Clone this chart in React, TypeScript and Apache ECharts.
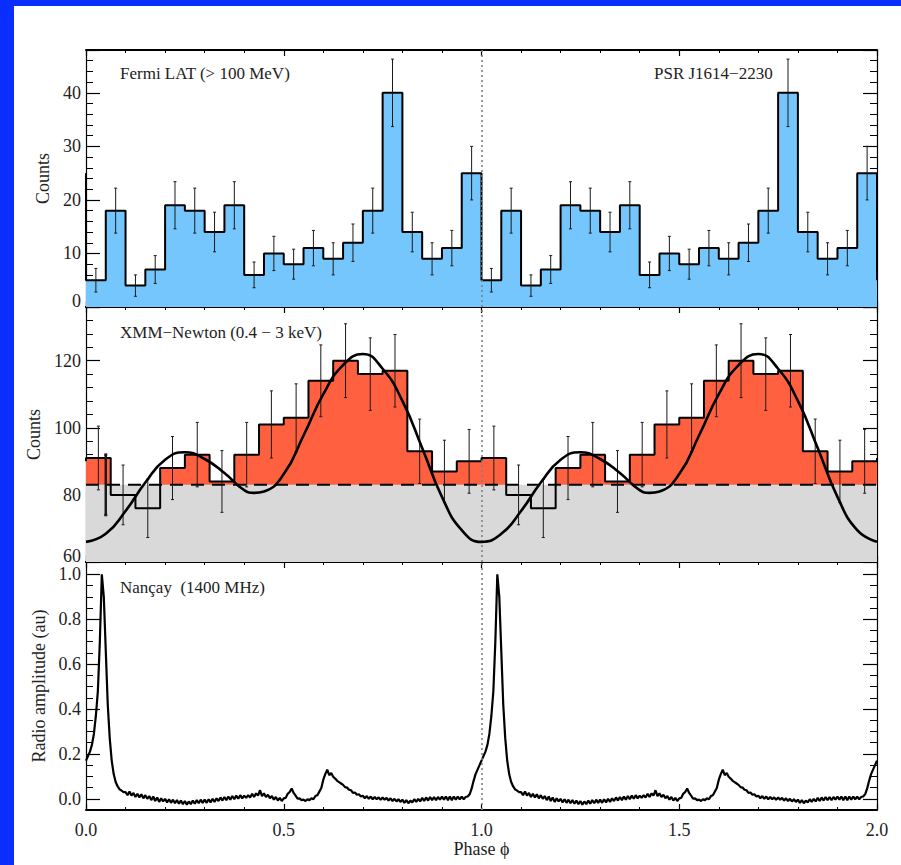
import React, { useEffect, useRef } from "react";
import * as echarts from "echarts";

// ---------------- data ----------------
const phaseTicks = [0, 0.5, 1.0, 1.5, 2.0];
const cycles = [0, 1];

// Fermi LAT (> 100 MeV), 20 bins per rotation
const fermiBinWidth = 0.05;
const fermiCounts = [5, 18, 4, 7, 19, 18, 14, 19, 6, 10, 8, 11, 9, 12, 18, 40, 14, 9, 11, 25];
const fermiErrors = [2.2, 4.2, 2.0, 2.6, 4.4, 4.2, 3.7, 4.4, 2.4, 3.2, 2.8, 3.3, 3.0, 3.5, 4.2, 6.3, 3.7, 3.0, 3.3, 5.0];

// XMM-Newton (0.4 - 3 keV), 16 bins per rotation
const xmmBinWidth = 0.0625;
const xmmCounts = [91, 80, 76, 88, 92, 84, 92, 101, 103, 114, 120, 116, 117, 93, 87, 90];
const xmmErrors = [9.5, 8.9, 8.7, 9.4, 9.6, 9.2, 9.6, 10.0, 10.1, 10.7, 11.0, 10.8, 10.8, 9.6, 9.3, 9.5];
const xmmBackground = 83;
const xmmExtraBar = [[0.05, 74, 92]];

// model curve
const xmmModelPhase = [0, 0.05, 0.1, 0.15, 0.2, 0.25, 0.3, 0.35, 0.4, 0.425, 0.45, 0.5, 0.55, 0.6, 0.65, 0.7, 0.75, 0.8, 0.85, 0.9, 0.95, 1.0];
const xmmModel = [66.0, 68.4, 75.2, 83.7, 90.5, 92.7, 90.7, 86.5, 81.4, 80.6, 81.0, 86.2, 97.7, 110.0, 118.7, 122.0, 117.6, 108.0, 94.0, 79.4, 69.5, 66.0];

// Nancay radio profile, sampled every 0.005 in phase
const radioStep = 0.005;
const radioAmp = [
  0.17, 0.19, 0.21, 0.24, 0.29, 0.37, 0.48, 0.70, 1.00, 0.90,
  0.66, 0.42, 0.27, 0.17, 0.11, 0.075, 0.055, 0.042, 0.036, 0.030,
  0.030, 0.016, 0.032, 0.014, 0.026, 0.008, 0.022, 0.006, 0.020, 0.002,
  0.016, 0.000, 0.012, -0.006, 0.010, -0.010, 0.006, -0.014, 0.002, -0.012,
  0.000, -0.016, -0.002, -0.018, -0.004, -0.020, -0.006, -0.022, -0.008, -0.024,
  -0.010, -0.026, -0.012, -0.024, -0.008, -0.022, -0.006, -0.020, -0.004, -0.018,
  -0.004, -0.018, -0.002, -0.016, 0.000, -0.014, 0.002, -0.010, 0.006, -0.008,
  0.008, -0.006, 0.010, -0.004, 0.012, -0.002, 0.014, 0.000, 0.016, 0.002,
  0.014, 0.004, 0.016, 0.006, 0.022, 0.008, 0.024, 0.014, 0.038, 0.012,
  0.024, 0.008, 0.018, 0.002, 0.012, -0.004, 0.008, -0.008, 0.004, -0.010,
  0.002, 0.004, 0.022, 0.030, 0.046, 0.026, 0.014, 0.000, 0.002, -0.006,
  -0.004, -0.010, -0.002, -0.006, 0.002, -0.002, 0.012, 0.016, 0.032, 0.048,
  0.085, 0.110, 0.130, 0.105, 0.115, 0.098, 0.090, 0.080, 0.074, 0.068,
  0.062, 0.052, 0.050, 0.040, 0.038, 0.026, 0.028, 0.018, 0.020, 0.010,
  0.014, 0.002, 0.012, 0.000, 0.010, -0.002, 0.008, -0.002, 0.006, -0.004,
  0.006, -0.004, 0.004, -0.008, 0.002, -0.010, 0.000, -0.012, -0.002, -0.014,
  -0.004, -0.018, -0.006, -0.020, -0.008, -0.016, -0.002, -0.014, 0.000, -0.012,
  0.004, -0.010, 0.006, -0.008, 0.008, -0.006, 0.008, -0.006, 0.008, -0.004,
  0.010, -0.004, 0.010, -0.006, 0.010, -0.006, 0.010, -0.004, 0.010, -0.002,
  0.010, -0.002, 0.008, 0.010, 0.020, 0.045, 0.080, 0.110, 0.130, 0.150,
];
const radioMajorTicks = [0, 0.2, 0.4, 0.6, 0.8, 1.0];
const radioMinorTicks = [0.05, 0.1, 0.15, 0.25, 0.3, 0.35, 0.45, 0.5, 0.55, 0.65, 0.7, 0.75, 0.85, 0.9, 0.95];

// ---------------- helpers ----------------
const FONT = '"Liberation Serif", "Times New Roman", serif';
const TEXT = "#222";

function stepData(values: number[], w: number) {
  const last = values[values.length - 1];
  const pts: number[][] = [[0, last]];
  cycles.forEach((c) => values.forEach((v, i) => pts.push([c + i * w, v])));
  pts.push([2, last]);
  pts.push([2, values[0]]);
  return pts;
}
function errData(values: number[], errs: number[], w: number) {
  const out: number[][] = [];
  cycles.forEach((c) =>
    values.forEach((v, i) => out.push([c + (i + 0.5) * w, v - errs[i], v + errs[i]]))
  );
  return out;
}

const errRender = (lw: number, cap: number) => (params: any, api: any) => {
  const x = api.value(0);
  const lo = api.coord([x, api.value(1)]);
  const hi = api.coord([x, api.value(2)]);
  const st = { stroke: "#1a1a1a", lineWidth: lw };
  return {
    type: "group",
    children: [
      { type: "line", shape: { x1: lo[0], y1: lo[1], x2: hi[0], y2: hi[1] }, style: st },
      { type: "line", shape: { x1: lo[0] - cap, y1: lo[1], x2: lo[0] + cap, y2: lo[1] }, style: st },
      { type: "line", shape: { x1: hi[0] - cap, y1: hi[1], x2: hi[0] + cap, y2: hi[1] }, style: st },
    ],
  };
};

const dotted = {
  silent: true,
  symbol: "none",
  label: { show: false },
  lineStyle: { type: [2, 3], color: "#808080", width: 1.6 },
  data: [{ xAxis: 1 }],
};

function xAxis(gridIndex: number, position: string, showLabel: boolean) {
  return {
    type: "value",
    gridIndex,
    position,
    min: phaseTicks[0],
    max: phaseTicks[phaseTicks.length - 1],
    interval: 0.5,
    axisLine: { onZero: false, lineStyle: { color: "#000", width: 2 } },
    axisTick: { inside: true, length: 6, lineStyle: { color: "#000", width: 1.2 } },
    minorTick: { show: true, splitNumber: 5, length: 3, lineStyle: { color: "#000", width: 1 } },
    splitLine: { show: false },
    minorSplitLine: { show: false },
    axisLabel: {
      show: showLabel,
      margin: 11,
      formatter: (v: number) => v.toFixed(1),
      fontFamily: FONT,
      fontSize: 18,
      color: TEXT,
    },
    name: showLabel ? "Phase \u03D5" : "",
    nameLocation: "middle",
    nameGap: 30,
    nameTextStyle: { fontFamily: FONT, fontSize: 18, color: TEXT },
  };
}

function yAxis(
  gridIndex: number,
  position: string,
  min: number,
  max: number,
  interval: number,
  split: number,
  showLabel: boolean,
  name: string,
  nameGap: number,
  digits: number,
  liftValue: number | null
) {
  return {
    type: "value",
    gridIndex,
    position,
    min,
    max,
    interval,
    axisLine: { onZero: false, lineStyle: { color: "#000", width: 1.2 } },
    axisTick: { inside: true, length: 14, lineStyle: { color: "#000", width: 1.2 } },
    minorTick: { show: true, splitNumber: split, length: 7, lineStyle: { color: "#000", width: 1 } },
    splitLine: { show: false },
    minorSplitLine: { show: false },
    axisLabel: {
      show: showLabel,
      margin: 5,
      fontFamily: FONT,
      fontSize: 18,
      color: TEXT,
      formatter: (v: number) => {
        const k = v / interval;
        if (Math.abs(k - Math.round(k)) > 1e-6) return "";
        const s = v.toFixed(digits);
        if (liftValue !== null && Math.abs(v - liftValue) < 1e-9) return "{up|" + s + "}";
        return s;
      },
      rich: { up: { fontFamily: FONT, fontSize: 18, color: TEXT, padding: [0, 0, 12, 0] } },
    },
    name: showLabel ? name : "",
    nameLocation: "middle",
    nameGap,
    nameTextStyle: { fontFamily: FONT, fontSize: 18, color: TEXT },
  };
}

// radio panel: ticks given explicitly (axis min is not a tick)
function radioAxis(position: string, major: boolean, showLabel: boolean) {
  return {
    type: "value",
    gridIndex: 2,
    position,
    min: -0.05,
    max: 1.055,
    axisLine: { show: major, onZero: false, lineStyle: { color: "#000", width: 1.2 } },
    axisTick: {
      inside: true,
      length: major ? 14 : 7,
      customValues: major ? radioMajorTicks : radioMinorTicks,
      lineStyle: { color: "#000", width: major ? 1.2 : 1 },
    },
    minorTick: { show: false },
    splitLine: { show: false },
    axisLabel: {
      show: showLabel,
      customValues: radioMajorTicks,
      margin: 5,
      fontFamily: FONT,
      fontSize: 18,
      color: TEXT,
      formatter: (v: number) => v.toFixed(1),
    },
    name: showLabel ? "Radio amplitude (au)" : "",
    nameLocation: "middle",
    nameGap: 37,
    nameTextStyle: { fontFamily: FONT, fontSize: 18, color: TEXT },
  };
}

export default function App() {
  const ref = useRef<HTMLDivElement>(null);

  useEffect(() => {
    if (!ref.current) return;
    const chart = echarts.init(ref.current, null, { renderer: "svg" });

    const fermiStep = stepData(fermiCounts, fermiBinWidth);
    const xmmStep = stepData(xmmCounts, xmmBinWidth);
    const model: number[][] = [];
    cycles.forEach((c) =>
      xmmModelPhase.slice(0, -1).forEach((p, i) => model.push([c + p, xmmModel[i]]))
    );
    model.push([2, xmmModel[xmmModel.length - 1]]);
    const radio: number[][] = [];
    cycles.forEach((c) => radioAmp.forEach((v, i) => radio.push([c + i * radioStep, v])));
    radio.push([2, radioAmp[0]]);
    const bg = [
      [0, xmmBackground],
      [2, xmmBackground],
    ];

    const option: any = {
      animation: false,
      backgroundColor: "#fff",
      grid: [
        { left: 72, top: 44, width: 791, height: 257 },
        { left: 72, top: 301, width: 791, height: 255 },
        { left: 72, top: 556, width: 791, height: 248 },
      ],
      xAxis: [
        xAxis(0, "bottom", false),
        xAxis(0, "top", false),
        xAxis(1, "bottom", false),
        xAxis(1, "top", false),
        xAxis(2, "bottom", true),
        xAxis(2, "top", false),
      ],
      yAxis: [
        yAxis(0, "left", 0, 48, 10, 5, true, "Counts", 33, 0, 0),
        yAxis(0, "right", 0, 48, 10, 5, false, "", 0, 0, null),
        yAxis(1, "left", 60, 136, 20, 5, true, "Counts", 42, 0, 60),
        yAxis(1, "right", 60, 136, 20, 5, false, "", 0, 0, null),
        radioAxis("left", true, true),
        radioAxis("right", true, false),
        radioAxis("left", false, false),
        radioAxis("right", false, false),
      ],
      graphic: [
        { type: "text", x: 106, y: 67, style: { text: "Fermi LAT (> 100 MeV)", font: `17px ${FONT}`, fill: TEXT, verticalAlign: "middle", align: "left" } },
        { type: "text", x: 640, y: 67, style: { text: "PSR J1614\u22122230", font: `17px ${FONT}`, fill: TEXT, verticalAlign: "middle", align: "left" } },
        { type: "text", x: 106, y: 326, style: { text: "XMM\u2212Newton (0.4 \u2212 3 keV)", font: `17px ${FONT}`, fill: TEXT, verticalAlign: "middle", align: "left" } },
        { type: "text", x: 106, y: 581, style: { text: "Nan\u00e7ay  (1400 MHz)", font: `17px ${FONT}`, fill: TEXT, verticalAlign: "middle", align: "left" } },
      ],
      series: [
        {
          type: "line",
          xAxisIndex: 0,
          yAxisIndex: 0,
          step: "end",
          data: fermiStep,
          symbol: "none",
          areaStyle: { color: "#74C6FC", opacity: 1, origin: "start" },
          lineStyle: { color: "#000", width: 2 },
          z: 2,
          silent: true,
          markLine: dotted,
        },
        {
          type: "custom",
          xAxisIndex: 0,
          yAxisIndex: 0,
          data: errData(fermiCounts, fermiErrors, fermiBinWidth),
          renderItem: errRender(1, 1.5),
          encode: { x: 0, y: [1, 2] },
          z: 3,
          silent: true,
        },
        {
          type: "line",
          xAxisIndex: 2,
          yAxisIndex: 2,
          step: "end",
          data: xmmStep,
          symbol: "none",
          areaStyle: { color: "#FF6140", opacity: 1, origin: "start" },
          lineStyle: { width: 0, opacity: 0 },
          z: 1,
          silent: true,
        },
        {
          type: "line",
          xAxisIndex: 2,
          yAxisIndex: 2,
          data: bg,
          symbol: "none",
          areaStyle: { color: "#D9D9D9", opacity: 1, origin: "start" },
          lineStyle: { width: 0, opacity: 0 },
          z: 2,
          silent: true,
        },
        {
          type: "line",
          xAxisIndex: 2,
          yAxisIndex: 2,
          step: "end",
          data: xmmStep,
          symbol: "none",
          lineStyle: { color: "#000", width: 2 },
          z: 3,
          silent: true,
          markLine: dotted,
        },
        {
          type: "line",
          xAxisIndex: 2,
          yAxisIndex: 2,
          data: bg,
          symbol: "none",
          lineStyle: { color: "#000", width: 2, type: [13, 8] },
          z: 4,
          silent: true,
        },
        {
          type: "custom",
          xAxisIndex: 2,
          yAxisIndex: 2,
          data: errData(xmmCounts, xmmErrors, xmmBinWidth),
          renderItem: errRender(1, 1.5),
          encode: { x: 0, y: [1, 2] },
          z: 5,
          silent: true,
        },
        {
          type: "custom",
          xAxisIndex: 2,
          yAxisIndex: 2,
          data: xmmExtraBar,
          renderItem: errRender(2.5, 1.5),
          encode: { x: 0, y: [1, 2] },
          z: 5,
          silent: true,
        },
        {
          type: "line",
          xAxisIndex: 2,
          yAxisIndex: 2,
          data: model,
          smooth: 0.5,
          symbol: "none",
          lineStyle: { color: "#000", width: 2.6 },
          z: 6,
          silent: true,
        },
        {
          type: "line",
          xAxisIndex: 4,
          yAxisIndex: 4,
          data: radio,
          symbol: "none",
          lineStyle: { color: "#000", width: 2.2 },
          z: 3,
          silent: true,
          markLine: dotted,
        },
      ],
    };
    chart.setOption(option);
    return () => chart.dispose();
  }, []);

  return (
    <div style={{ position: "fixed", left: 0, top: 0, width: 901, height: 865, background: "#0A2EFF" }}>
      <div ref={ref} style={{ position: "absolute", left: 14, top: 6, width: 887, height: 859, background: "#fff" }} />
    </div>
  );
}
